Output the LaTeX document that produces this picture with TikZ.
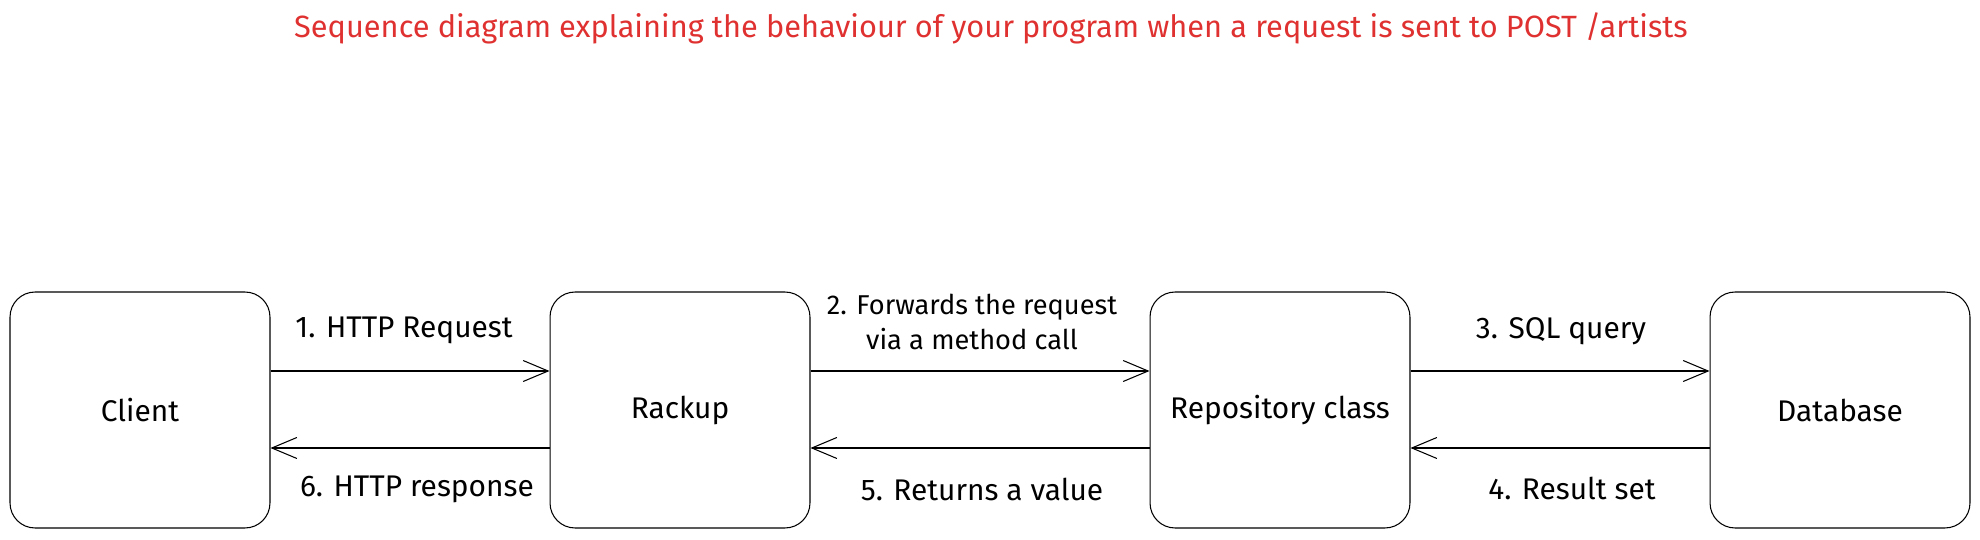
\documentclass[tikz,border=0pt]{standalone}
\usepackage{fontspec}
\setmainfont{Fira Sans}
\usepackage{tikz}
\usetikzlibrary{arrows.meta}
\definecolor{titlered}{HTML}{E03131}

\begin{document}
\begin{tikzpicture}[x=0.02cm, y=-0.02cm, auto,
    part/.style={draw, semithick, rounded corners=0.5cm, minimum width=5.2cm, minimum height=4.72cm, font=\fontsize{17}{20}\selectfont},
    lbl/.style={font=\fontsize{17}{22}\selectfont, align=center},
    >={Straight Barb[length=0.5cm, width=0.42cm]}]

    \useasboundingbox (0, 0) rectangle (1980, 540);

    \node[text=titlered, font=\fontsize{17.5}{20}\selectfont] (title) at (991, 28) {Sequence diagram explaining the behaviour of your program when a request is sent to POST /artists};

    \node[part] (client) at (140, 410) {Client};
    \node[part] (rackup) at (680, 410) {Rackup};
    \node[part] (repo) at (1280, 410) {Repository class};
    \node[part] (db) at (1840, 410) {Database};

    \node[lbl] (l1) at (404, 330) {1. HTTP Request};
    \node[lbl, font=\fontsize{15.5}{20}\selectfont] (l2) at (972, 322) {2. Forwards the request\\via a method call};
    \node[lbl] (l3) at (1561, 331) {3. SQL query};
    \node[lbl] (l4) at (1572, 488) {4. Result set};
    \node[lbl] (l5) at (982, 489) {5. Returns a value};
    \node[lbl] (l6) at (417, 489) {6. HTTP response};

    \draw [semithick, ->] ([yshift=0.78cm]client.east) to ([yshift=0.78cm]rackup.west);
    \draw [semithick, ->] ([yshift=0.78cm]rackup.east) to ([yshift=0.78cm]repo.west);
    \draw [semithick, ->] ([yshift=0.78cm]repo.east) to ([yshift=0.78cm]db.west);
    \draw [semithick, ->] ([yshift=-0.76cm]db.west) to ([yshift=-0.76cm]repo.east);
    \draw [semithick, ->] ([yshift=-0.76cm]repo.west) to ([yshift=-0.76cm]rackup.east);
    \draw [semithick, ->] ([yshift=-0.76cm]rackup.west) to ([yshift=-0.76cm]client.east);

\end{tikzpicture}
\end{document}
